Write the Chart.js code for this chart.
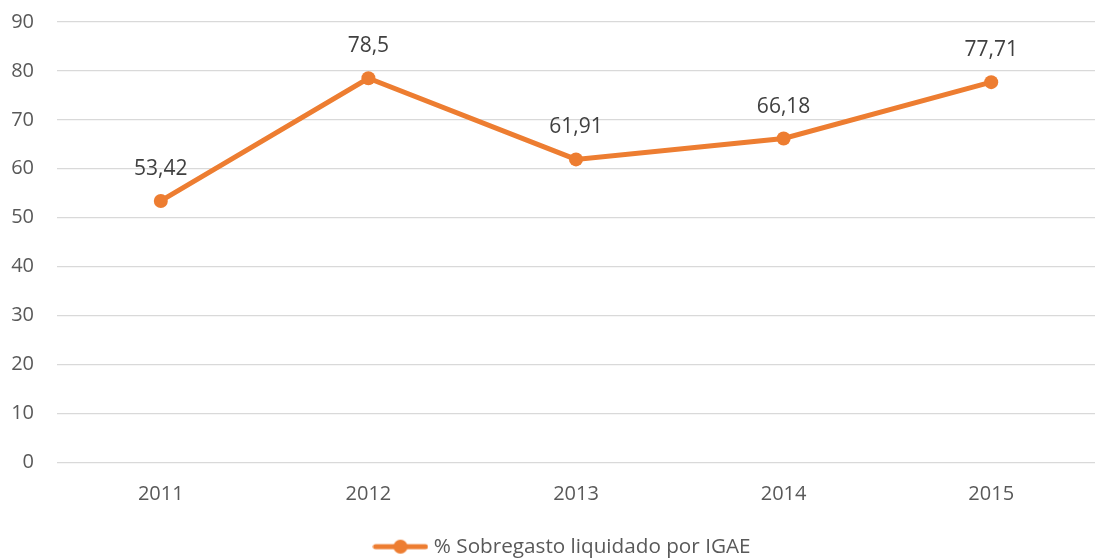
<!DOCTYPE html>
<html>
<head>
<meta charset="utf-8">
<script src="https://cdn.jsdelivr.net/npm/chart.js@4.4.1/dist/chart.umd.min.js"></script>
<style>
html,body{margin:0;padding:0;background:#fff;}
#wrap{width:1095px;height:560px;position:relative;}
</style>
</head>
<body>
<div id="wrap"><canvas id="c" width="1095" height="560"></canvas></div>
<script>
const categories = ["2011","2012","2013","2014","2015"];
const values = [53.42, 78.5, 61.91, 66.18, 77.71];
const valueLabels = ["53,42","78,5","61,91","66,18","77,71"];
const seriesName = "% Sobregasto liquidado por IGAE";
const yTicks = [0,10,20,30,40,50,60,70,80,90];

const ORANGE = "#ED7D31";
const FONT = "'Open Sans', 'Noto Sans', sans-serif";

// legend marker: line with circle
const marker = document.createElement('canvas');
marker.width = 56; marker.height = 16;
(function(){
  const g = marker.getContext('2d');
  g.strokeStyle = ORANGE; g.lineWidth = 5; g.lineCap = 'round';
  g.beginPath(); g.moveTo(3,8); g.lineTo(53,8); g.stroke();
  g.fillStyle = ORANGE; g.beginPath(); g.arc(28,8,7,0,Math.PI*2); g.fill();
})();

const labelPlugin = {
  id: 'valueLabels',
  afterLayout(chart){
    if (chart.legend) { chart.legend.left += 11; chart.legend.right += 11; }
  },
  afterDatasetsDraw(chart){
    const ctx = chart.ctx;
    const meta = chart.getDatasetMeta(0);
    ctx.save();
    ctx.font = "21px " + FONT;
    ctx.fillStyle = "#404040";
    ctx.textAlign = "center";
    ctx.textBaseline = "middle";
    meta.data.forEach((pt, i) => {
      ctx.fillText(valueLabels[i], pt.x, pt.y - 32);
    });
    ctx.restore();
  }
};

new Chart(document.getElementById('c'), {
  type: 'line',
  data: {
    labels: categories,
    datasets: [{
      label: seriesName,
      data: values,
      borderColor: ORANGE,
      backgroundColor: ORANGE,
      borderWidth: 5,
      pointRadius: 7,
      pointHoverRadius: 7,
      pointBackgroundColor: ORANGE,
      pointBorderColor: ORANGE,
      pointBorderWidth: 0,
      tension: 0,
      pointStyle: 'circle'
    }]
  },
  options: {
    responsive: false,
    animation: false,
    devicePixelRatio: 1,
    layout: { autoPadding: false, padding: { left: 10, right: -1, top: 22, bottom: -7 } },
    plugins: {
      legend: {
        display: true,
        position: 'bottom',
        labels: {
          usePointStyle: true,
          pointStyle: marker,
          pointStyleWidth: 46,
          color: "#595959",
          font: { size: 20.7, family: FONT },
          padding: 10,
          generateLabels(chart){
            return [{ text: seriesName, pointStyle: marker, fillStyle: ORANGE, strokeStyle: ORANGE, lineWidth: 0, datasetIndex: 0, fontColor: "#595959" }];
          }
        }
      },
      tooltip: { enabled: false }
    },
    scales: {
      x: {
        offset: true,
        afterFit(axis){ axis.paddingLeft = 0; axis.paddingRight = 0; },
        grid: { display: false, drawTicks: false },
        border: { display: false },
        ticks: { color: "#595959", font: { size: 20, family: FONT }, padding: 20 }
      },
      y: {
        min: 0, max: 90,
        afterBuildTicks(axis){ axis.ticks = yTicks.map(v => ({ value: v })); },
        afterFit(axis){ axis.width = 47; axis.paddingTop = 0; axis.paddingBottom = 0; axis.paddingLeft = 0; axis.paddingRight = 0; },
        grid: { color: "#d9d9d9", lineWidth: 1.3, drawTicks: false },
        border: { display: false },
        ticks: { color: "#595959", font: { size: 20, family: FONT }, padding: 23 }
      }
    }
  },
  plugins: [labelPlugin]
});
</script>
</body>
</html>
